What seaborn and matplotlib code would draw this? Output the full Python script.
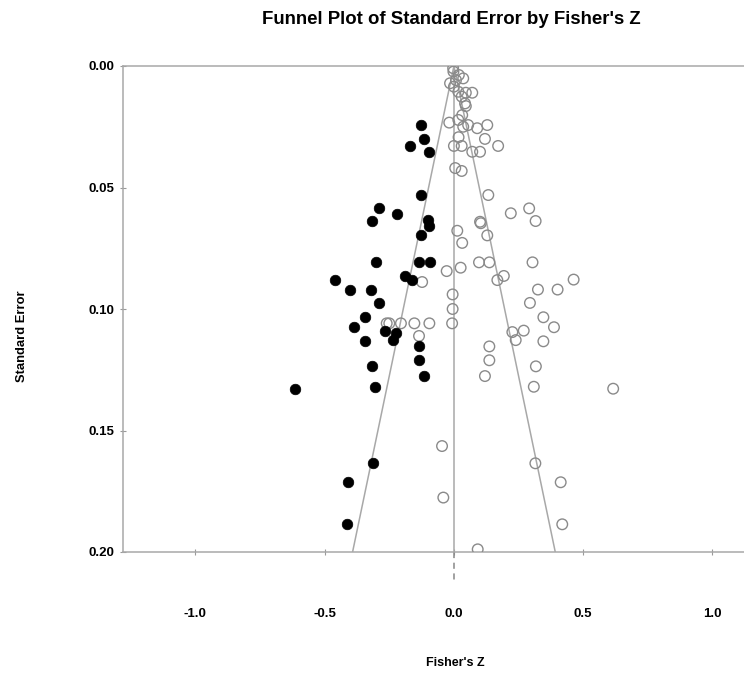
import numpy as np
import pandas as pd
import seaborn as sns
import matplotlib
matplotlib.use("Agg")
import matplotlib.pyplot as plt

# observed studies (open circles): Fisher's Z and standard error
observed_z = [
    -0.003, -0.002, 0.036, 0.019, -0.015, 0.000, 0.008, 0.017, 0.071, 0.046,
    0.030, 0.043, 0.046, 0.032, -0.018, 0.017, 0.055, 0.090, 0.129, 0.036,
    0.018, 0.120, 0.000, 0.030, 0.171, 0.071, 0.101, 0.005, 0.030, 0.133,
    0.220, 0.291, 0.316, 0.101, 0.104, 0.129, 0.013, 0.032, 0.097, 0.137,
    0.304, -0.028, 0.026, -0.123, 0.168, 0.193, 0.463, 0.325, 0.401, -0.005,
    0.294, -0.005, 0.346, -0.260, -0.250, -0.205, -0.153, -0.095, -0.007, 0.387,
    0.226, 0.270, 0.239, 0.346, -0.135, 0.137, 0.137, 0.317, 0.120, 0.309,
    0.616, -0.046, 0.315, 0.413, -0.041, 0.419, 0.092,
]
observed_se = [
    0.0009, 0.0023, 0.0051, 0.0037, 0.0071, 0.0085, 0.0058, 0.0106, 0.0110, 0.0110,
    0.0126, 0.0154, 0.0165, 0.0202, 0.0233, 0.0222, 0.0243, 0.0256, 0.0243, 0.0250,
    0.0293, 0.0300, 0.0329, 0.0329, 0.0329, 0.0353, 0.0353, 0.0420, 0.0432, 0.0531,
    0.0606, 0.0586, 0.0638, 0.0641, 0.0647, 0.0697, 0.0678, 0.0728, 0.0808, 0.0808,
    0.0808, 0.0844, 0.0830, 0.0889, 0.0881, 0.0864, 0.0879, 0.0920, 0.0920, 0.0940,
    0.0975, 0.1000, 0.1034, 0.1059, 0.1059, 0.1059, 0.1059, 0.1059, 0.1059, 0.1075,
    0.1095, 0.1089, 0.1128, 0.1133, 0.1111, 0.1154, 0.1211, 0.1236, 0.1276, 0.1320,
    0.1328, 0.1564, 0.1635, 0.1713, 0.1776, 0.1886, 0.1989,
]

# imputed studies (filled dots)
imputed_z = [
    -0.128, -0.117, -0.170, -0.097, -0.129, -0.289, -0.219, -0.315, -0.100, -0.097,
    -0.128, -0.303, -0.134, -0.093, -0.460, -0.190, -0.164, -0.401, -0.321, -0.291,
    -0.345, -0.386, -0.267, -0.224, -0.237, -0.343, -0.134, -0.134, -0.315, -0.117,
    -0.615, -0.307, -0.312, -0.409, -0.415,
]
imputed_se = [
    0.0243, 0.0302, 0.0328, 0.0354, 0.0532, 0.0584, 0.0608, 0.0638, 0.0635, 0.0660,
    0.0697, 0.0808, 0.0808, 0.0808, 0.0881, 0.0863, 0.0881, 0.0920, 0.0920, 0.0975,
    0.1034, 0.1075, 0.1089, 0.1097, 0.1128, 0.1133, 0.1154, 0.1211, 0.1236, 0.1276,
    0.1328, 0.1320, 0.1635, 0.1713, 0.1886,
]

mean_z = 0.0
max_se = 0.20
x_ticks = [-1.0, -0.5, 0.0, 0.5, 1.0]
y_ticks = [0.00, 0.05, 0.10, 0.15, 0.20]

observed = pd.DataFrame({"z": observed_z, "se": observed_se})
imputed = pd.DataFrame({"z": imputed_z, "se": imputed_se})

sns.set_style("white")
plt.rcParams["font.family"] = ["Liberation Sans", "DejaVu Sans"]
plt.rcParams["font.weight"] = "bold"
plt.rcParams["text.color"] = "black"
plt.rcParams["xtick.color"] = "black"
plt.rcParams["ytick.color"] = "black"

fig = plt.figure(figsize=(7.44, 6.79), dpi=100)
ax = fig.add_axes([123 / 744, 1 - 552 / 679, 1 - 123 / 744, (552 - 66) / 679])

grey = "#a8a8a8"

# funnel and mean line
ax.plot([mean_z, mean_z], [0, max_se], color=grey, lw=1.1, zorder=1)
ax.plot([mean_z, mean_z - 1.96 * max_se], [0, max_se], color=grey, lw=1.1, zorder=1)
ax.plot([mean_z, mean_z + 1.96 * max_se], [0, max_se], color=grey, lw=1.1, zorder=1)
ax.plot([mean_z, mean_z], [max_se, max_se + 0.0125], color="#888888", lw=1.1,
        ls=(0, (4, 3)), clip_on=False, zorder=1)

sns.scatterplot(data=observed, x="z", y="se", ax=ax, marker="o", s=58,
                facecolor="none", edgecolor="#8a8a8a", linewidth=1.0, zorder=3)
sns.scatterplot(data=imputed, x="z", y="se", ax=ax, marker="o", s=58,
                color="black", edgecolor="black", linewidth=0.5, zorder=4)

ax.set_xlim(-1.28, 1.122)
ax.set_ylim(max_se, 0)
ax.set_xticks(x_ticks)
ax.set_yticks(y_ticks)
ax.set_xticklabels([f"{t:.1f}" for t in x_ticks])
ax.set_yticklabels([f"{t:.2f}" for t in y_ticks])
ax.set_xlabel("")
ax.set_ylabel("")

for side in ["left", "top", "bottom"]:
    ax.spines[side].set_color(grey)
    ax.spines[side].set_linewidth(1.1)
ax.spines["right"].set_visible(False)

ax.tick_params(axis="x", bottom=True, direction="inout", length=5, width=0.8,
               color="#999999", labelcolor="black", pad=38, labelsize=9.5)
ax.tick_params(axis="y", left=True, direction="inout", length=5, width=0.8,
               color="#999999", labelcolor="black", pad=4, labelsize=9.5)

fig.text(451 / 744, 1 - 19 / 679, "Funnel Plot of Standard Error by Fisher's Z",
         ha="center", va="center", fontsize=13.4, fontweight="bold", color="black")
fig.text(455 / 744, 1 - 663 / 679, "Fisher's Z", ha="center", va="center",
         fontsize=9, fontweight="bold", color="black")
fig.text(22 / 744, 1 - 336 / 679, "Standard Error", ha="center", va="center",
         rotation=90, fontsize=9.4, fontweight="bold", color="black")

fig.savefig("out.png", dpi=100)
